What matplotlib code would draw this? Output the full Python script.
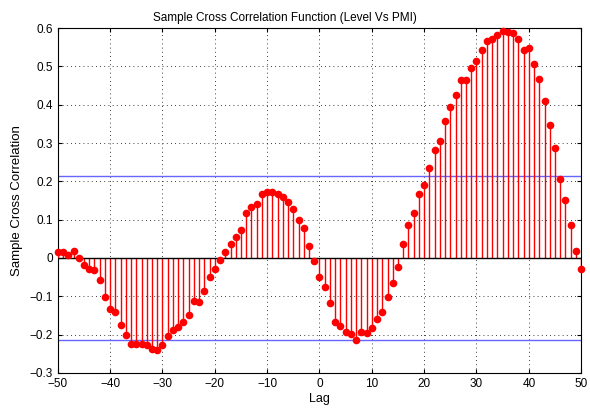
import numpy as np
import matplotlib
matplotlib.use("Agg")
import matplotlib.pyplot as plt

lags = list(range(-50, 51))
xcf = [0.016, 0.016, 0.007, 0.019, 0.0, -0.019, -0.030, -0.031, -0.057, -0.103,
       -0.134, -0.142, -0.174, -0.200, -0.224, -0.224, -0.224, -0.226, -0.238, -0.240,
       -0.228, -0.203, -0.187, -0.181, -0.168, -0.150, -0.113, -0.116, -0.087, -0.049,
       -0.030, -0.004, 0.016, 0.037, 0.054, 0.073, 0.118, 0.132, 0.140, 0.167,
       0.173, 0.172, 0.166, 0.160, 0.146, 0.129, 0.098, 0.077, 0.030, -0.007,
       -0.050, -0.077, -0.118, -0.167, -0.177, -0.193, -0.198, -0.214, -0.192, -0.196,
       -0.184, -0.159, -0.142, -0.103, -0.065, -0.023, 0.036, 0.086, 0.117, 0.168,
       0.191, 0.235, 0.283, 0.306, 0.358, 0.395, 0.426, 0.464, 0.464, 0.497,
       0.515, 0.542, 0.567, 0.572, 0.583, 0.592, 0.589, 0.586, 0.571, 0.543,
       0.547, 0.506, 0.468, 0.409, 0.348, 0.288, 0.205, 0.152, 0.086, 0.019,
       -0.029]
bound = 0.215
xticks = list(range(-50, 51, 10))
xtick_labels = ["\u221250", "\u221240", "\u221230", "\u221220", "\u221210", "0", "10", "20", "30", "40", "50"]
yticks = [-0.3, -0.2, -0.1, 0, 0.1, 0.2, 0.3, 0.4, 0.5, 0.6]
ytick_labels = ["\u22120.3", "\u22120.2", "\u22120.1", "0", "0.1", "0.2", "0.3", "0.4", "0.5", "0.6"]

plt.rcParams['font.family'] = ['Liberation Sans', 'DejaVu Sans']
fig = plt.figure(figsize=(5.9, 4.13), dpi=100)
ax = fig.add_axes([0.098, 0.097, 0.887, 0.835])

ax.vlines(lags, 0, xcf, colors='red', linewidth=1.0, zorder=3)
ax.plot(lags, xcf, 'o', color='red', markersize=5.5, markeredgewidth=0, zorder=4, clip_on=False)
ax.axhline(0, color='black', linewidth=1.0, zorder=3)
ax.axhline(bound, color='#6666ff', linewidth=1.0, zorder=2)
ax.axhline(-bound, color='#6666ff', linewidth=1.0, zorder=2)

ax.set_xlim(-50, 50)
ax.set_ylim(-0.3, 0.6)
ax.set_xticks(xticks)
ax.set_xticklabels(xtick_labels)
ax.set_yticks(yticks)
ax.set_yticklabels(ytick_labels)
ax.tick_params(direction='in', labelsize=8.5, length=3, top=True, right=True)
ax.grid(True, linestyle=(0, (1, 4)), color='black', linewidth=0.6)
ax.set_axisbelow(True)
for s in ax.spines.values():
    s.set_linewidth(0.8)

ax.set_title('Sample Cross Correlation Function (Level Vs PMI)', fontsize=8.5, pad=5, x=0.434)
ax.set_xlabel('Lag', fontsize=9, labelpad=2)
ax.set_ylabel('Sample Cross Correlation', fontsize=9.5, labelpad=5)

fig.savefig('out.png', dpi=100)
